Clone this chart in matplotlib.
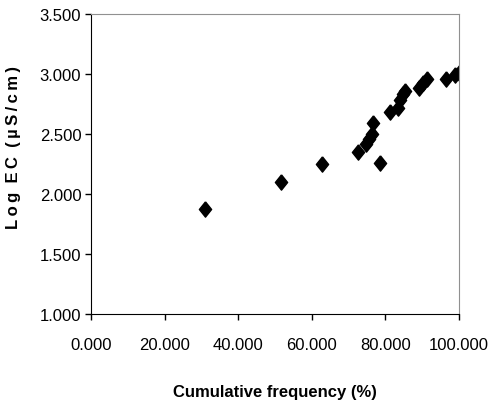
import matplotlib

matplotlib.use("Agg")
import matplotlib.pyplot as plt
from matplotlib.ticker import FormatStrFormatter

# cumulative frequency (%) vs log EC (uS/cm)
cum_freq = [31.0, 51.6, 62.8, 72.5, 74.7, 75.6, 76.3, 76.5, 78.5, 81.3,
            83.5, 84.0, 84.9, 85.3, 89.1, 90.3, 91.4, 96.5, 98.9, 100.0]
log_ec = [1.875, 2.10, 2.25, 2.35, 2.42, 2.46, 2.50, 2.59, 2.26, 2.68,
          2.72, 2.78, 2.83, 2.86, 2.88, 2.93, 2.96, 2.96, 2.99, 3.01]

x_ticks = [0, 20, 40, 60, 80, 100]
y_ticks = [1.0, 1.5, 2.0, 2.5, 3.0, 3.5]

plt.rcParams["font.family"] = ["Liberation Sans", "DejaVu Sans"]

fig = plt.figure(figsize=(4.92, 4.10), dpi=100)
ax = fig.add_axes([0.185, 0.232, 0.748, 0.731])

diamond = [(0, 1), (0.8, 0), (0, -1), (-0.8, 0), (0, 1)]
ax.plot(cum_freq, log_ec, linestyle="none", marker=diamond, markersize=11,
        color="black")

ax.set_xlim(0, 100)
ax.set_ylim(1.0, 3.5)
ax.set_xticks(x_ticks)
ax.set_yticks(y_ticks)
ax.xaxis.set_major_formatter(FormatStrFormatter("%.3f"))
ax.yaxis.set_major_formatter(FormatStrFormatter("%.3f"))
ax.tick_params(direction="out", length=4, width=1, labelsize=12, pad=13)
ax.tick_params(axis="y", pad=3)

for side in ("top", "right"):
    ax.spines[side].set_color("#909090")
for side in ("left", "bottom"):
    ax.spines[side].set_color("black")

ax.set_xlabel("Cumulative frequency (%)", fontsize=12, fontweight="bold",
              labelpad=23)
# the original label is letter-spaced
t = "\u2009"
y_label = t.join("Log") + "  " + t.join("EC") + "  " + t.join("(µS/cm)")
ax.set_ylabel(y_label, fontsize=12, fontweight="bold", labelpad=4)
ax.yaxis.set_label_coords(-0.19, 0.557)

fig.savefig("out.png", dpi=100)
